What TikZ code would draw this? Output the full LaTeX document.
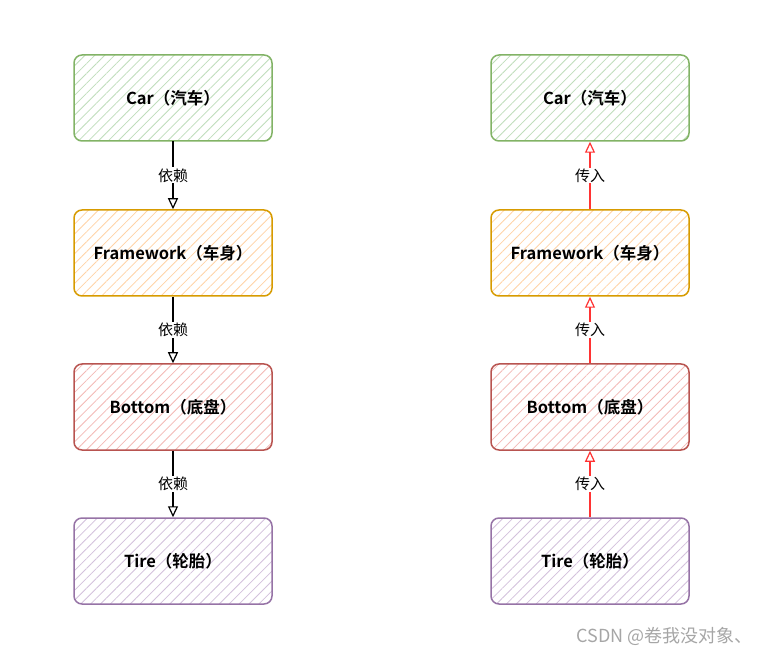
\documentclass[tikz,border=0pt]{standalone}
\usepackage{fontspec}
\setmainfont{Noto Sans CJK SC}
\newfontfamily\cjkb{Noto Sans CJK SC Bold}
\usetikzlibrary{arrows.meta,patterns.meta}
\definecolor{gB}{HTML}{82B366}\definecolor{gF}{HTML}{BFDDBB}
\definecolor{oB}{HTML}{D79B00}\definecolor{oF}{HTML}{FFD3A6}
\definecolor{rB}{HTML}{B85450}\definecolor{rF}{HTML}{F3B9B6}
\definecolor{pB}{HTML}{9673A6}\definecolor{pF}{HTML}{D3C1DC}
\definecolor{redline}{HTML}{FF3333}
\tikzset{
  box/.style={draw=#1B, line width=1.5pt, rounded corners=8pt, minimum width=198pt, minimum height=86pt,
    preaction={fill=white},
    pattern={Lines[angle=45,distance=7pt,line width=0.8pt]}, pattern color=#1F,
    font=\cjkb\fontsize{16.5}{18}\selectfont, inner sep=0pt},
  dep/.style={draw=black, line width=1.2pt, -{Triangle[open,length=11pt,width=10pt]}},
  inj/.style={draw=redline, line width=1.2pt, -{Triangle[open,length=11pt,width=10pt]}},
  lab/.style={fill=white, inner sep=1pt, font=\fontsize{15}{17}\selectfont}
}
\begin{document}
\begin{tikzpicture}[x=1pt,y=-1pt]
\useasboundingbox (0,0) rectangle (764,655);
\node[box=g] (car) at (173,98) {Car（汽车）};
\node[box=o] (fw) at (173,253) {Framework（车身）};
\node[box=r] (bt) at (173,407) {Bottom（底盘）};
\node[box=p] (tr) at (173,561) {Tire（轮胎）};
\draw[dep] (car) -- node[lab]{依赖} (fw);
\draw[dep] (fw) -- node[lab]{依赖} (bt);
\draw[dep] (bt) -- node[lab]{依赖} (tr);
\node[box=g] (car2) at (590,98) {Car（汽车）};
\node[box=o] (fw2) at (590,253) {Framework（车身）};
\node[box=r] (bt2) at (590,407) {Bottom（底盘）};
\node[box=p] (tr2) at (590,561) {Tire（轮胎）};
\draw[inj] (fw2) -- node[lab]{传入} (car2);
\draw[inj] (bt2) -- node[lab]{传入} (fw2);
\draw[inj] (tr2) -- node[lab]{传入} (bt2);
\node[text=gray!70, font=\fontsize{18}{20}\selectfont, anchor=east] (wm) at (756,636) {CSDN @卷我没对象、};
\end{tikzpicture}
\end{document}
